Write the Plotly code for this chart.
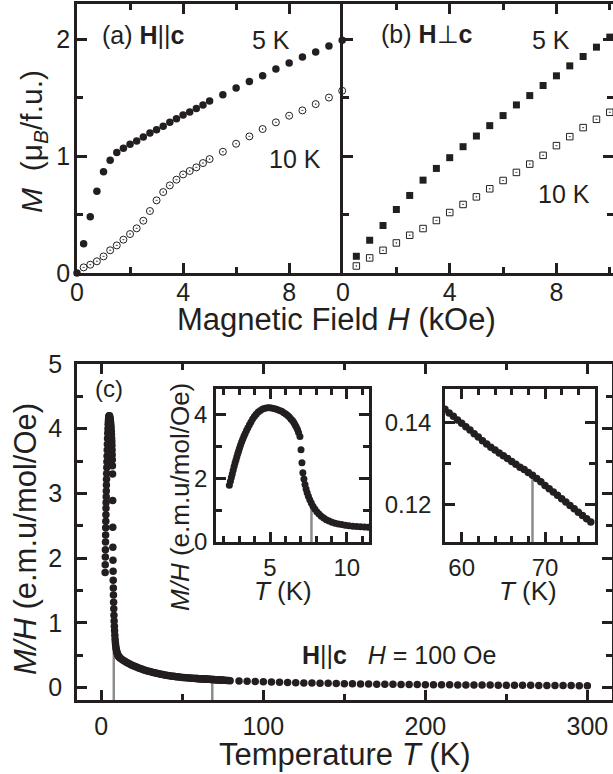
import plotly.graph_objects as go

# ---------------- data ----------------
# (a) H || c, magnetization vs field
field_a_5K = [0.0, 0.25, 0.5, 0.75, 1.0, 1.25, 1.5, 1.75, 2.0, 2.25, 2.5, 2.75, 3.0, 3.25, 3.5, 3.75,
              4.0, 4.25, 4.5, 4.75, 5.0, 5.5, 6.0, 6.5, 7.0, 7.5, 8.0, 8.5, 9.0, 9.5, 10.0]
M_a_5K = [0.0, 0.25, 0.48, 0.70, 0.865, 0.963, 1.03, 1.066, 1.10, 1.128, 1.162, 1.197, 1.225, 1.254, 1.288, 1.319,
          1.35, 1.376, 1.407, 1.436, 1.47, 1.524, 1.581, 1.638, 1.687, 1.744, 1.795, 1.846, 1.89, 1.94, 1.99]
field_a_10K = [0.25, 0.5, 0.75, 1.0, 1.25, 1.5, 1.75, 2.0, 2.25, 2.5, 2.75, 3.0, 3.25, 3.5, 3.75,
               4.0, 4.25, 4.5, 4.75, 5.0, 5.5, 6.0, 6.5, 7.0, 7.5, 8.0, 8.5, 9.0, 9.5, 10.0]
M_a_10K = [0.048, 0.071, 0.10, 0.142, 0.194, 0.236, 0.285, 0.333, 0.382, 0.447, 0.530, 0.621, 0.692, 0.749, 0.798,
           0.843, 0.872, 0.903, 0.940, 0.974, 1.037, 1.105, 1.168, 1.231, 1.288, 1.345, 1.39, 1.444, 1.50, 1.558]

# (b) H perp c
field_b = [0.5, 1.0, 1.5, 2.0, 2.5, 3.0, 3.5, 4.0, 4.5, 5.0, 5.5, 6.0, 6.5, 7.0, 7.5, 8.0, 8.5, 9.0, 9.5, 10.0]
M_b_5K = [0.143, 0.28, 0.406, 0.543, 0.663, 0.794, 0.894, 0.986, 1.08, 1.171, 1.26, 1.346, 1.437, 1.517,
          1.603, 1.686, 1.771, 1.851, 1.931, 2.017]
M_b_10K = [0.06, 0.129, 0.194, 0.257, 0.323, 0.38, 0.449, 0.517, 0.586, 0.651, 0.72, 0.791, 0.86, 0.931,
           1.006, 1.089, 1.166, 1.243, 1.314, 1.374]

# (c) M/H vs temperature, H = 100 Oe
T_low = [2.35, 2.42, 2.48, 2.54, 2.60, 2.66, 2.72, 2.78, 2.84, 2.90, 2.96, 3.02, 3.08, 3.15, 3.22, 3.30,
         3.38, 3.47, 3.56, 3.66, 3.76, 3.87, 3.98, 4.10, 4.23, 4.37, 4.52, 4.68, 4.84, 5.00, 5.16, 5.32,
         5.47, 5.62, 5.76, 5.90, 6.03, 6.15, 6.26, 6.36, 6.46, 6.55, 6.63, 6.71, 6.79, 6.86, 6.95, 7.02,
         7.08, 7.14, 7.21, 7.28, 7.35, 7.42, 7.50, 7.59, 7.69, 7.80, 7.92, 8.05, 8.19, 8.34, 8.50, 8.67,
         8.85, 9.04, 9.24, 9.45, 9.67, 9.90, 10.14, 10.39, 10.64, 10.89, 11.14, 11.38]
MH_low = [1.78, 1.90, 2.02, 2.13, 2.25, 2.36, 2.47, 2.57, 2.67, 2.77, 2.86, 2.95, 3.04, 3.13, 3.22, 3.31,
          3.40, 3.49, 3.58, 3.67, 3.76, 3.85, 3.93, 4.00, 4.07, 4.12, 4.16, 4.19, 4.20, 4.20, 4.19, 4.17,
          4.15, 4.12, 4.09, 4.05, 4.01, 3.96, 3.91, 3.85, 3.80, 3.74, 3.67, 3.60, 3.52, 3.43, 3.30, 2.89,
          2.48, 2.17, 1.97, 1.80, 1.66, 1.54, 1.43, 1.32, 1.22, 1.12, 1.03, 0.95, 0.88, 0.81, 0.75, 0.70,
          0.66, 0.62, 0.59, 0.565, 0.545, 0.525, 0.51, 0.497, 0.486, 0.477, 0.469, 0.462]
T_mid = [12, 13, 14, 15, 16, 17, 18, 19, 20, 21, 22, 23, 24, 25, 26, 27, 28, 29, 30, 31, 32, 33, 34, 35,
         36, 37, 38, 39, 40, 41, 42, 43, 44, 45, 46, 47, 48, 49, 50, 51, 52, 53, 54, 55, 56, 57]
MH_mid = [0.45, 0.43, 0.415, 0.40, 0.385, 0.372, 0.36, 0.348, 0.337, 0.326, 0.316, 0.306, 0.297, 0.288,
          0.279, 0.271, 0.263, 0.256, 0.249, 0.242, 0.236, 0.23, 0.224, 0.218, 0.213, 0.208, 0.203, 0.198,
          0.194, 0.19, 0.186, 0.182, 0.178, 0.175, 0.171, 0.168, 0.165, 0.162, 0.159, 0.157, 0.154, 0.152,
          0.150, 0.1485, 0.1467, 0.1450]
T_kink = [58.0, 58.5, 59.0, 59.5, 60.0, 60.5, 61.0, 61.5, 62.0, 62.5, 63.0, 63.5, 64.0, 64.5, 65.0, 65.5,
          66.0, 66.5, 67.0, 67.5, 68.0, 68.5, 69.0, 69.5, 70.0, 70.5, 71.0, 71.5, 72.0, 72.5, 73.0, 73.5,
          74.0, 74.5, 75.0, 75.5]
MH_kink = [0.1433, 0.1424, 0.1416, 0.1407, 0.1399, 0.1390, 0.1382, 0.1373, 0.1365, 0.1356, 0.1348, 0.1340,
           0.1333, 0.1326, 0.1319, 0.1312, 0.1305, 0.1298, 0.1291, 0.1285, 0.1278, 0.1271, 0.1263, 0.1255,
           0.1246, 0.1238, 0.1230, 0.1222, 0.1213, 0.1205, 0.1197, 0.1189, 0.1180, 0.1172, 0.1164, 0.1156]
T_tail = [76.5, 77.5, 78.5, 79.5]
MH_tail = [0.1140, 0.1124, 0.1108, 0.1092]
T_high = [85, 90, 95, 100, 105, 110, 115, 120, 125, 130, 135, 140, 145, 150, 155, 160, 165, 170, 175, 180,
          185, 190, 195, 200, 205, 210, 215, 220, 225, 230, 235, 240, 245, 250, 255, 260, 265, 270, 275,
          280, 285, 290, 295, 300]
MH_high = [0.104, 0.099, 0.095, 0.091, 0.087, 0.083, 0.080, 0.077, 0.074, 0.071, 0.069, 0.067, 0.064, 0.062,
           0.060, 0.059, 0.057, 0.055, 0.054, 0.052, 0.051, 0.050, 0.048, 0.047, 0.046, 0.045, 0.044, 0.043,
           0.042, 0.041, 0.040, 0.040, 0.039, 0.038, 0.037, 0.037, 0.036, 0.035, 0.035, 0.034, 0.034, 0.033,
           0.032, 0.032]

# transition temperatures (gray markers) and curve value there
transition_T = [7.7, 68.5]
transition_MH = [1.17, 0.1271]

# --------------- figure ---------------
W, H = 613, 774
INK = "#231f20"
GRAY = "#8c8c8c"
FONT = "Liberation Sans, Arial, Helvetica, sans-serif"


def px(x):
    return x / W


def py(y):
    return 1 - y / H


T_all = T_low + T_mid + T_kink + T_tail + T_high
MH_all = MH_low + MH_mid + MH_kink + MH_tail + MH_high

fig = go.Figure()

# panel (a)
fig.add_trace(go.Scatter(x=field_a_10K, y=M_a_10K, mode="markers", xaxis="x", yaxis="y", cliponaxis=False,
                         marker=dict(symbol="circle-open-dot", size=7, color=INK, line=dict(width=1, color=INK))))
fig.add_trace(go.Scatter(x=field_a_5K, y=M_a_5K, mode="markers", xaxis="x", yaxis="y", cliponaxis=False,
                         marker=dict(symbol="circle", size=7.5, color=INK, line=dict(width=0))))
# panel (b)
fig.add_trace(go.Scatter(x=field_b, y=M_b_10K, mode="markers", xaxis="x2", yaxis="y2", cliponaxis=False,
                         marker=dict(symbol="square-open-dot", size=6.5, color=INK, line=dict(width=1, color=INK))))
fig.add_trace(go.Scatter(x=field_b, y=M_b_5K, mode="markers", xaxis="x2", yaxis="y2", cliponaxis=False,
                         marker=dict(symbol="square", size=7, color=INK, line=dict(width=0))))

# panel (c) main
main_ymin = -0.19
for t, v in zip(transition_T, transition_MH):
    fig.add_trace(go.Scatter(x=[t, t], y=[main_ymin, v], mode="lines", xaxis="x3", yaxis="y3",
                             line=dict(color=GRAY, width=2.5)))
fig.add_trace(go.Scatter(x=T_all, y=MH_all, mode="markers", xaxis="x3", yaxis="y3", cliponaxis=False,
                         marker=dict(symbol="circle", size=7.5, color=INK, line=dict(width=0))))

# inset 1
in1_ymin = 0
fig.add_trace(go.Scatter(x=[transition_T[0]] * 2, y=[in1_ymin, transition_MH[0]], mode="lines",
                         xaxis="x4", yaxis="y4", line=dict(color=GRAY, width=2.5)))
fig.add_trace(go.Scatter(x=T_low, y=MH_low, mode="markers", xaxis="x4", yaxis="y4",
                         marker=dict(symbol="circle", size=7, color=INK, line=dict(width=0))))
# inset 2
in2_ymin = 0.1107
fig.add_trace(go.Scatter(x=[transition_T[1]] * 2, y=[in2_ymin, transition_MH[1]], mode="lines",
                         xaxis="x5", yaxis="y5", line=dict(color=GRAY, width=2.5)))
fig.add_trace(go.Scatter(x=T_kink, y=MH_kink, mode="markers", xaxis="x5", yaxis="y5",
                         marker=dict(symbol="circle", size=7.5, color=INK, line=dict(width=0))))


def ax(domain, rng, dtick, mdtick, anchor, size=25, labels=True, mirror="ticks", tick0=0, standoff=None):
    d = dict(domain=domain, range=rng, anchor=anchor, dtick=dtick, tick0=tick0, automargin=False,
             showline=True, linecolor=INK, linewidth=2.5, mirror=mirror,
             ticks="inside", ticklen=10, tickwidth=2.5, tickcolor=INK,
             minor=dict(dtick=mdtick, tick0=tick0, ticks="inside", ticklen=6, tickwidth=2.5, tickcolor=INK),
             showgrid=False, zeroline=False, showticklabels=labels,
             tickfont=dict(family=FONT, size=size, color=INK))
    if standoff is not None:
        d["ticklabelstandoff"] = standoff
    return d


fig.update_layout(
    template="none",
    width=W, height=H, autosize=False,
    margin=dict(l=0, r=0, t=0, b=0, pad=0, autoexpand=False),
    paper_bgcolor="white", plot_bgcolor="rgba(0,0,0,0)",
    showlegend=False,
    font=dict(family=FONT, color=INK),
    xaxis=ax([px(77), px(343)], [0, 10.03], 4, 2, "y", standoff=-5),
    yaxis=ax([py(273), py(4)], [0, 2.3], 1, 0.5, "x", mirror=False, standoff=-1),
    xaxis2=ax([px(343), 1.0], [0, 10.12], 4, 2, "y2", standoff=-5),
    yaxis2=ax([py(273), py(4)], [0, 2.3], 1, 0.5, "x2", labels=False),
    xaxis3=ax([px(77), px(612)], [-15, 315.2], 100, 50, "y3", standoff=2),
    yaxis3=ax([py(700), py(364)], [main_ymin, 5.0], 1, 0.5, "x3", standoff=7),
    xaxis4=ax([px(216), px(369)], [1.48, 11.45], 5, 1, "y4", size=24, standoff=2),
    yaxis4=ax([py(542), py(389)], [in1_ymin, 4.79], 2, 1, "x4", size=24, standoff=1),
    xaxis5=ax([px(445), px(595)], [58.0, 76.0], 10, 2, "y5", size=24, standoff=2),
    yaxis5=ax([py(542), py(389)], [in2_ymin, 0.1483], 0.02, 0.01, "x5", size=24, standoff=6),
)


def note(text, x, y, size=24, xanchor="left", angle=0):
    fig.add_annotation(text=text, x=px(x), y=py(y), xref="paper", yref="paper", showarrow=False,
                       xanchor=xanchor, yanchor="middle", textangle=angle,
                       font=dict(family=FONT, size=size, color=INK))


# axis titles
note("Magnetic Field <i>H</i> (kOe)", 336, 320, size=31, xanchor="center")
note("Temperature <i>T</i> (K)", 345, 754, size=31, xanchor="center")
note("<i>M</i>  (μ<sub><i>B</i></sub>/f.u.)", 33, 142, size=30, xanchor="center", angle=-90)
note("<i>M/H</i> (e.m.u/mol/Oe)", 25, 539, size=31, xanchor="center", angle=-90)
note("<i>M/H</i> (e.m.u/mol/Oe)", 180, 497, size=26, xanchor="center", angle=-90)
note("<i>T</i> (K)", 283, 591, size=26, xanchor="center")
note("<i>T</i> (K)", 528, 591, size=26, xanchor="center")

# panel labels
note("(a) <b>H</b>||<b>c</b>", 100, 35, size=25)
note("5 K", 250, 40, size=25)
note("10 K", 267, 159, size=25)
note("(b) <b>H</b>⊥<b>c</b>", 379, 34, size=25)
note("5 K", 530, 40, size=25)
note("10 K", 536, 194, size=25)
note("(c)", 93, 388)
note("<b>H</b>||<b>c</b>   <i>H</i> = 100 Oe", 300, 655, size=25)

fig.write_html("out.html", config={"displayModeBar": False},
               post_script="document.body.style.margin='0';document.body.style.overflow='hidden';")
